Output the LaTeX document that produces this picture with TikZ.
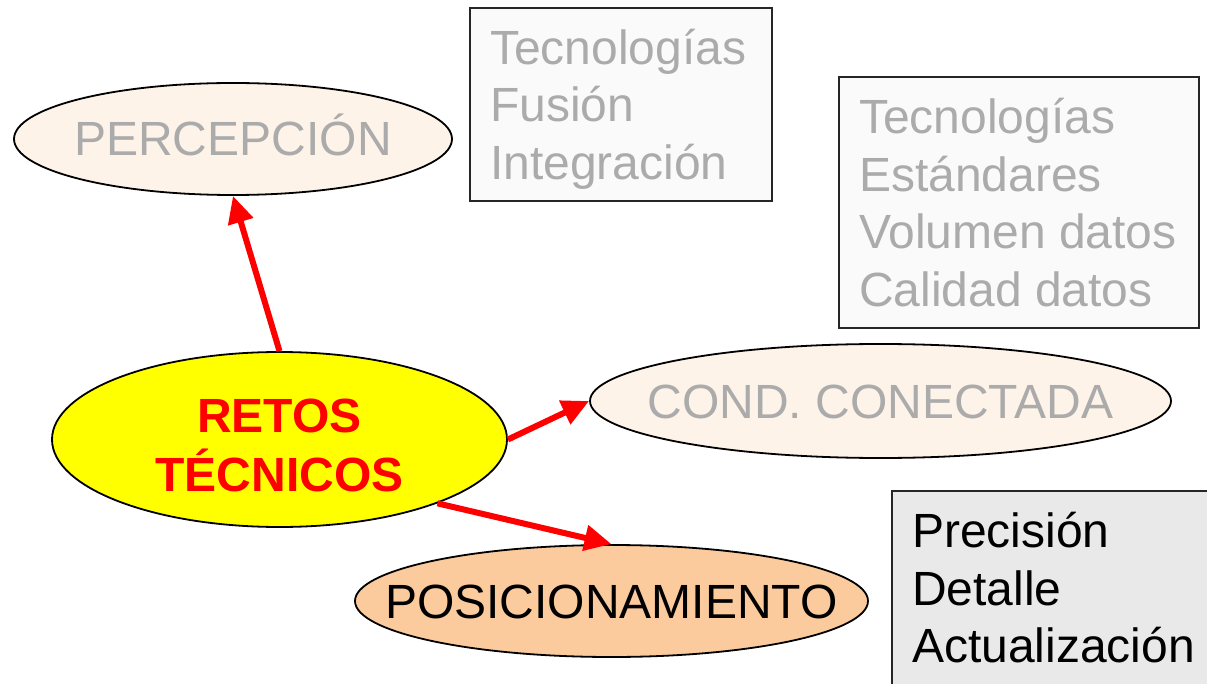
\documentclass[tikz,border=0pt]{standalone}
\usepackage{fontspec}
\setmainfont{Liberation Sans}
\usetikzlibrary{shapes.geometric,arrows.meta}
\definecolor{beige}{HTML}{FDF3E9}
\definecolor{peach}{HTML}{FBCA9D}
\definecolor{greytxt}{HTML}{ABABAB}
\definecolor{boxlight}{HTML}{FAFAFA}
\definecolor{boxgrey}{HTML}{E9E9E9}
\definecolor{arrred}{HTML}{FF0000}
\definecolor{pureyellow}{HTML}{FFFF00}
\tikzset{
  ell/.style={ellipse, draw=black, line width=1.8pt, inner sep=0pt,
    font=\fontsize{48}{56}\selectfont, text height=34pt, text depth=0pt},
  infobox/.style={rectangle, draw=black!85, line width=1.6pt, inner sep=0pt,
    font=\fontsize{48}{57.5}\selectfont},
  redarrow/.style={draw=arrred, line width=6pt,
    -{Triangle[length=27pt,width=25pt]}}
}
\begin{document}
\begin{tikzpicture}[x=1pt,y=-1pt]
\useasboundingbox (0,0) rectangle (1207,684);
\clip (0,0) rectangle (1207,684);
\fill[white] (0,0) rectangle (1207,684);

% info boxes
\node[infobox, fill=boxlight, text=greytxt, minimum width=302pt, minimum height=193pt]
  (box1) at (621,104.5)
  {\raisebox{-4.5pt}[\height][\depth]{\parbox{262pt}{\raggedright Tecnologías\\Fusión\\Integración}}};
\node[infobox, fill=boxlight, text=greytxt, minimum width=360pt, minimum height=251pt]
  (box2) at (1019,202.5)
  {\parbox{320pt}{\raggedright Tecnologías\\Estándares\\Volumen datos\\Calidad datos}};
\node[infobox, fill=boxgrey, text=black, minimum width=330pt, minimum height=196pt]
  (box3) at (1057,589)
  {\raisebox{1pt}[\height][\depth]{\parbox{290pt}{\raggedright Precisión\\Detalle\\Actualización}}};

% ellipses
\node[ell, fill=beige, text=greytxt, minimum width=438pt, minimum height=112pt]
  (perc) at (233,139) {\makebox[0pt]{PERCEPCIÓN}};
\node[ell, fill=beige, text=greytxt, minimum width=581pt, minimum height=114pt]
  (cond) at (880.5,401) {\makebox[0pt]{COND. CONECTADA}};
\node[ell, fill=peach, text=black, minimum width=513pt, minimum height=112pt]
  (posic) at (611.5,601) {\makebox[0pt]{POSICIONAMIENTO}};
\node[ell, fill=pureyellow, text=arrred, minimum width=455pt, minimum height=175pt,
      text height=, text depth=, font=\fontsize{48}{56.5}\selectfont\bfseries]
  (retos) at (279.5,439.5)
  {\raisebox{-11pt}[\height][\depth]{\makebox[0pt]{\begin{tabular}{@{}c@{}}RETOS\\TÉCNICOS\end{tabular}}}};

% arrows
\draw[redarrow] (retos.north) -- (perc.south);
\draw[redarrow] (retos.east) -- (cond.west);
\draw[redarrow] (retos.-22) -- (posic.north);
\end{tikzpicture}
\end{document}
